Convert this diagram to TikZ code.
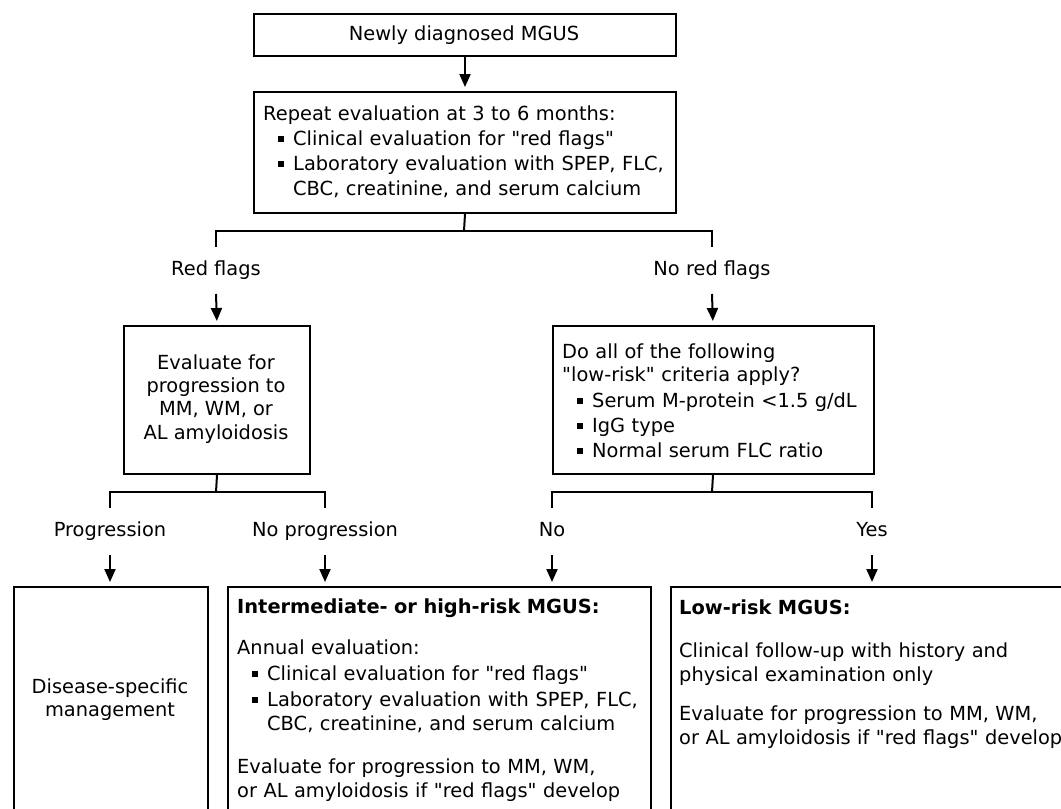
\documentclass[tikz,border=0pt]{standalone}
\usepackage{fontspec}
\setmainfont{DejaVu Sans}
\usetikzlibrary{arrows.meta}
\newcommand\tp{\rule{0pt}{16pt}}
\newcommand\bx{\hspace*{15pt}\makebox[15pt][l]{\rule[3.5pt]{5.5pt}{5.5pt}}}
\newcommand\ind{\hspace*{30pt}}
\newcommand\qq{\textquotedbl}
\begin{document}
\begin{tikzpicture}[x=1pt,y=-1pt,
  box/.style={draw=black, line width=2pt, inner sep=0, anchor=north west},
  txt/.style={inner sep=0, font=\fontsize{19.4}{24}\selectfont, text=black},
  blk/.style={txt, anchor=north west, align=left, text width=420pt},
  cblk/.style={inner sep=0, font=\fontsize{19.4}{23.3}\selectfont, anchor=north, align=center},
  lbl/.style={txt, anchor=base},
  ln/.style={line width=2pt},
  arr/.style={ln, -{Triangle[width=11pt,length=13pt]}, shorten >=4pt}]
\useasboundingbox (0,0) rectangle (1061,809);
\clip (0,0) rectangle (1061,809);
\fill[white] (0,0) rectangle (1061,809);

% boxes
\node[box, minimum width=422pt, minimum height=42pt] (b1) at (253,13) {};
\node[lbl] (t1) at (464,40) {Newly diagnosed MGUS};

\node[box, minimum width=422pt, minimum height=121pt] (b2) at (253,91) {};
\node[blk] (t2) at (263,104) {\tp Repeat evaluation at 3 to 6 months:\\[1pt]\bx Clinical evaluation for \qq red flags\qq\\[1pt]\bx Laboratory evaluation with SPEP, FLC,\\[1pt]\ind CBC, creatinine, and serum calcium};

\draw[arr] (b1.south) -- (b2.north);

% first split
\coordinate (j1) at (464,231);
\coordinate (l1a) at (216,247);
\coordinate (l1b) at (216,231);
\coordinate (r1b) at (712,231);
\coordinate (r1a) at (712,247);
\draw[ln] (b2.south) -- (j1);
\draw[ln] (l1a) -- (l1b) -- (r1b) -- (r1a);

\node[lbl] (rf) at (216,275) {Red flags};
\node[lbl] (nrf) at (712,275) {No red flags};
\coordinate (rfa) at (216,294);
\coordinate (nrfa) at (712,294);

\node[box, minimum width=186pt, minimum height=148pt] (ev) at (123,325) {};
\node[cblk] (tev) at (216,353) {\tp Evaluate for\\progression to\\MM, WM, or\\AL amyloidosis};

\node[box, minimum width=321pt, minimum height=148pt] (dec) at (551.5,325) {};
\node[blk] (tdec) at (562,342) {\tp Do all of the following\\[-1pt]\qq low-risk\qq{} criteria apply?\\[2pt]\bx Serum M-protein <1.5 g/dL\\[1pt]\bx IgG type\\[1pt]\bx Normal serum FLC ratio};

\draw[arr] (rfa) -- (ev.north);
\draw[arr] (nrfa) -- (dec.north);

% second split left
\coordinate (j2) at (216,492);
\coordinate (l2a) at (110,508);
\coordinate (l2b) at (110,492);
\coordinate (r2b) at (325,492);
\coordinate (r2a) at (325,508);
\draw[ln] (ev.south) -- (j2);
\draw[ln] (l2a) -- (l2b) -- (r2b) -- (r2a);

% second split right
\coordinate (j3) at (712,492);
\coordinate (l3a) at (552,508);
\coordinate (l3b) at (552,492);
\coordinate (r3b) at (872,492);
\coordinate (r3a) at (872,508);
\draw[ln] (dec.south) -- (j3);
\draw[ln] (l3a) -- (l3b) -- (r3b) -- (r3a);

\node[lbl] (pg) at (110,536) {Progression};
\node[lbl] (npg) at (325,536) {No progression};
\node[lbl] (no) at (552,536) {No};
\node[lbl] (yes) at (872,536) {Yes};

\coordinate (pga) at (110,555);
\coordinate (npga) at (325,555);
\coordinate (noa) at (552,555);
\coordinate (yesa) at (872,555);

% bottom boxes
\node[box, minimum width=194pt, minimum height=240pt] (dsm) at (13,586) {};
\node[cblk, font=\fontsize{19.4}{23}\selectfont] (tdsm) at (110,677) {\tp Disease-specific\\management};

\node[box, minimum width=423pt, minimum height=240pt] (mid) at (227,586) {};
\node[blk] (tmid) at (237,597) {\tp\textbf{Intermediate- or high-risk MGUS:}\\[17pt]Annual evaluation:\\[2pt]\bx Clinical evaluation for \qq red flags\qq\\[2pt]\bx Laboratory evaluation with SPEP, FLC,\\\ind CBC, creatinine, and serum calcium\\[19pt]Evaluate for progression to MM, WM,\\or AL amyloidosis if \qq red flags\qq{} develop};

\node[box, minimum width=420pt, minimum height=240pt] (low) at (670,586) {};
\node[blk] (tlow) at (679,598) {\tp\textbf{Low-risk MGUS:}\\[19pt]Clinical follow-up with history and\\physical examination only\\[15pt]Evaluate for progression to MM, WM,\\or AL amyloidosis if \qq red flags\qq{} develop};

\draw[arr] (pga) -- (pga |- dsm.north);
\draw[arr] (npga) -- (npga |- mid.north);
\draw[arr] (noa) -- (noa |- mid.north);
\draw[arr] (yesa) -- (yesa |- low.north);
\end{tikzpicture}
\end{document}
